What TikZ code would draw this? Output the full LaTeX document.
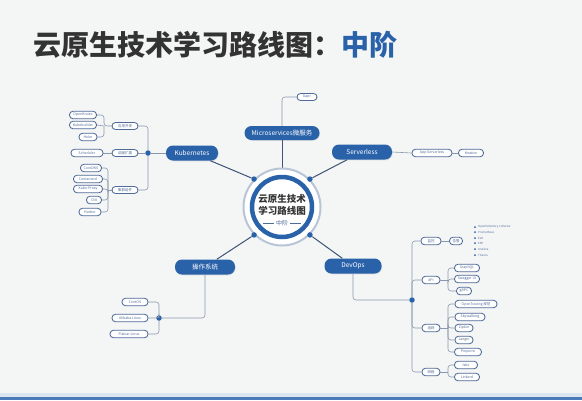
\documentclass[tikz,border=0pt]{standalone}
\usepackage{fontspec}
\newfontfamily\cjk{Noto Sans CJK SC}
\usetikzlibrary{shadows}

\definecolor{bgpaper}{HTML}{F4F5F5}
\definecolor{mainblue}{HTML}{2A62AA}
\definecolor{linegray}{HTML}{8A98AF}
\definecolor{spokeblue}{HTML}{3F5375}
\definecolor{titlegray}{HTML}{333333}
\definecolor{leafline}{HTML}{4F6B98}
\definecolor{ringgray}{HTML}{B9C5D6}
\definecolor{barlight}{HTML}{DCE6F0}

\pgfdeclarelayer{backdrop}
\pgfdeclarelayer{wires}
\pgfsetlayers{backdrop,wires,main}

\tikzset{
  topic/.style={fill=mainblue, text=white, rounded corners=7pt, minimum height=15pt,
    inner xsep=6pt, font=\cjk\fontsize{6.5}{7}\selectfont,
    drop shadow={opacity=0.2, shadow xshift=0.6pt, shadow yshift=-0.8pt}},
  leaf/.style={draw=leafline, line width=0.85pt, fill=white, rounded corners=3.5pt,
    minimum height=7.5pt, inner ysep=0pt, inner xsep=2pt, text=leafline,
    font=\cjk\fontsize{3.5}{3.8}\selectfont},
  link/.style={draw=linegray, line width=0.6pt, rounded corners=3pt},
  spoke/.style={draw=spokeblue, line width=1pt},
  hub/.style={circle, fill=mainblue, inner sep=0pt, minimum size=5.5pt},
  bullet/.style={circle, fill=mainblue, inner sep=0pt, minimum size=2pt},
  note/.style={anchor=west, inner sep=0pt, text=leafline, font=\cjk\fontsize{2.8}{3}\selectfont},
}

\begin{document}
\begin{tikzpicture}[x=1pt, y=-1pt]
  \useasboundingbox (0,0) rectangle (582,400);
  \begin{pgfonlayer}{backdrop}
    \fill[bgpaper] (0,0) rectangle (582,400);
    \fill[barlight] (0,393) rectangle (582,397);
    \fill[mainblue!85] (0,397) rectangle (582,400);
  \end{pgfonlayer}

  % title
  \node[anchor=west, inner sep=0pt, font=\cjk\bfseries\fontsize{28}{30}\selectfont, text=titlegray]
    (title) at (33,45) {云原生技术学习路线图：\textcolor{mainblue}{中阶}};

  % centre
  \node[circle, fill=white, draw=ringgray, line width=2pt, minimum size=77pt] (core) at (282,207) {};
  \draw[mainblue, line width=4.5pt] (core.center) circle (30);
  \node[font=\cjk\bfseries\fontsize{9.5}{10}\selectfont, text=titlegray, inner sep=0pt] (core1) at (282,199) {云原生技术};
  \node[font=\cjk\bfseries\fontsize{9.5}{10}\selectfont, text=titlegray, inner sep=0pt] (core2) at (282,211) {学习路线图};
  \node[font=\cjk\fontsize{6}{6}\selectfont, text=leafline, inner sep=1.5pt] (core3) at (282,223) {中阶};
  \coordinate (c3l) at (263,223);
  \coordinate (c3r) at (301,223);
  \draw[leafline, line width=0.5pt] (c3l) -- (core3.west) (core3.east) -- (c3r);
  \foreach \a in {45,135,225,315}
    \node[hub] (dot\a) at (core.\a) {};

  % topics
  \node[topic, minimum width=75pt, minimum height=14pt] (micro) at (282,133) {Microservices微服务};
  \node[topic, minimum width=60pt] (sls) at (362,152) {Serverless};
  \node[topic, minimum width=52pt] (k8s) at (192,153) {Kubernetes};
  \node[topic, minimum width=60pt] (os) at (205,267) {操作系统};
  \node[topic, minimum width=57pt] (devops) at (353,266) {DevOps};

  \begin{pgfonlayer}{wires}
    \draw[spoke] (core.north) -- (micro);
    \draw[spoke] (dot45) -- (sls);
    \draw[spoke] (dot135) -- (k8s);
    \draw[spoke] (dot225) -- (os);
    \draw[spoke] (dot315) -- (devops);
  \end{pgfonlayer}

  % microservices
  \node[leaf, minimum width=20pt, minimum height=7pt] (dapr) at (307,97) {Dapr};
  \draw[link] (micro.north) |- (dapr.west);

  % serverless
  \node[leaf, minimum width=40pt] (appsls) at (432,153) {App Serverless};
  \node[leaf, minimum width=25pt] (knative) at (471,153) {Knative};
  \draw[link] (sls.east) -- (appsls.west);
  \draw[link] (appsls.east) -- (knative.west);

  % kubernetes
  \node[hub] (khub) at (148,153) {};
  \draw[link] (k8s.west) -- (khub);
  \node[leaf, minimum width=26pt, minimum height=7pt] (kapp) at (125,126) {应用开发};
  \node[leaf, minimum width=26pt, minimum height=7pt] (kext) at (125,153) {调度扩展};
  \node[leaf, minimum width=26pt, minimum height=7pt] (kcomp) at (125,190) {集群组件};
  \draw[link] (khub) |- (kapp.east);
  \draw[link] (khub) -- (kext.east);
  \draw[link] (khub) |- (kcomp.east);

  \node[leaf, minimum width=27pt] (kruise) at (83,115) {OpenKruise};
  \node[leaf, minimum width=27pt] (kbuild) at (83,125) {Kubebuilder};
  \node[leaf, minimum width=18pt] (helm) at (88,137) {Helm};
  \coordinate (kappx) at (104,126);
  \draw[link] (kapp.west) -- (kappx) |- (kruise.east);
  \draw[link] (kappx) -- (kbuild.east);
  \draw[link] (kappx) |- (helm.east);

  \node[leaf, minimum width=32pt] (sched) at (87,153) {Scheduler};
  \draw[link] (kext.west) -- (sched.east);

  \node[leaf, minimum width=21pt] (coredns) at (91,168) {CoreDNS};
  \node[leaf, minimum width=29pt] (ctrd) at (88,179) {Containerd};
  \node[leaf, minimum width=29pt] (kproxy) at (88,189) {Kube-Proxy};
  \node[leaf, minimum width=15pt] (cni) at (94,200) {CNI};
  \node[leaf, minimum width=22pt] (harbor) at (90,212) {Harbor};
  \coordinate (kcompx) at (108,190);
  \draw[link] (kcomp.west) -- (kcompx);
  \foreach \n in {coredns,ctrd,kproxy,cni,harbor}
    \draw[link] (kcompx) |- (\n.east);

  % operating systems
  \node[hub] (oshub) at (159,318) {};
  \draw[link] (os.south) |- (oshub);
  \node[leaf, minimum width=26pt] (centos) at (135,302) {CentOS};
  \node[leaf, minimum width=36pt] (alios) at (130,318) {Alibaba Linux};
  \node[leaf, minimum width=38pt] (flatcar) at (129,334) {Flatcar Linux};
  \foreach \n in {centos,alios,flatcar}
    \draw[link] (oshub) |- (\n.east);

  % devops
  \node[hub] (dvhub) at (412,300) {};
  \draw[link] (devops.south) |- (dvhub);
  \node[leaf, minimum width=20pt] (mon) at (431,241) {监控};
  \node[leaf, minimum width=18pt] (api) at (431,280) {API};
  \node[leaf, minimum width=18pt] (trace) at (431,328) {追踪};
  \node[leaf, minimum width=18pt] (mesh) at (431,372) {网格};
  \foreach \n in {mon,api,trace,mesh}
    \draw[link] (dvhub) |- (\n.west);

  \node[leaf, minimum width=13pt] (alert) at (456,241) {告警};
  \draw[link] (mon.east) -- (alert.west);
  \foreach \y/\t [count=\i] in {227/OpenTelemetry Collector, 232/Prometheus, 238/ELK, 243/EFK, 249/Grafana, 255/Thanos} {
    \node[bullet] (b\i) at (475,\y) {};
    \node[note] (bt\i) at (478,\y) {\t};
  }

  \node[leaf, minimum width=25pt] (graphql) at (467,268) {GraphQL};
  \node[leaf, minimum width=25pt] (swagger) at (467,279) {Swagger UI};
  \node[leaf, minimum width=15pt] (grpc) at (464,291) {gRPC};
  \coordinate (apix) at (448,280);
  \draw[link] (api.east) -- (apix);
  \foreach \n in {graphql,swagger,grpc}
    \draw[link] (apix) |- (\n.west);

  \node[leaf, minimum width=42pt] (otspec) at (476,304) {OpenTracing 规范};
  \node[leaf, minimum width=30pt] (skywalk) at (470,317) {Skywalking};
  \node[leaf, minimum width=18pt] (zipkin) at (464,328) {Zipkin};
  \node[leaf, minimum width=18pt] (jaeger) at (464,340) {Jaeger};
  \node[leaf, minimum width=27pt] (pinpoint) at (468,352) {Pinpoint};
  \coordinate (tracex) at (448,328);
  \draw[link] (trace.east) -- (tracex);
  \foreach \n in {otspec,skywalk,zipkin,jaeger,pinpoint}
    \draw[link] (tracex) |- (\n.west);

  \node[leaf, minimum width=23pt] (istio) at (466,365) {Istio};
  \node[leaf, minimum width=25pt] (linkerd) at (467,377) {Linkerd};
  \coordinate (meshx) at (448,372);
  \draw[link] (mesh.east) -- (meshx);
  \foreach \n in {istio,linkerd}
    \draw[link] (meshx) |- (\n.west);
\end{tikzpicture}
\end{document}
